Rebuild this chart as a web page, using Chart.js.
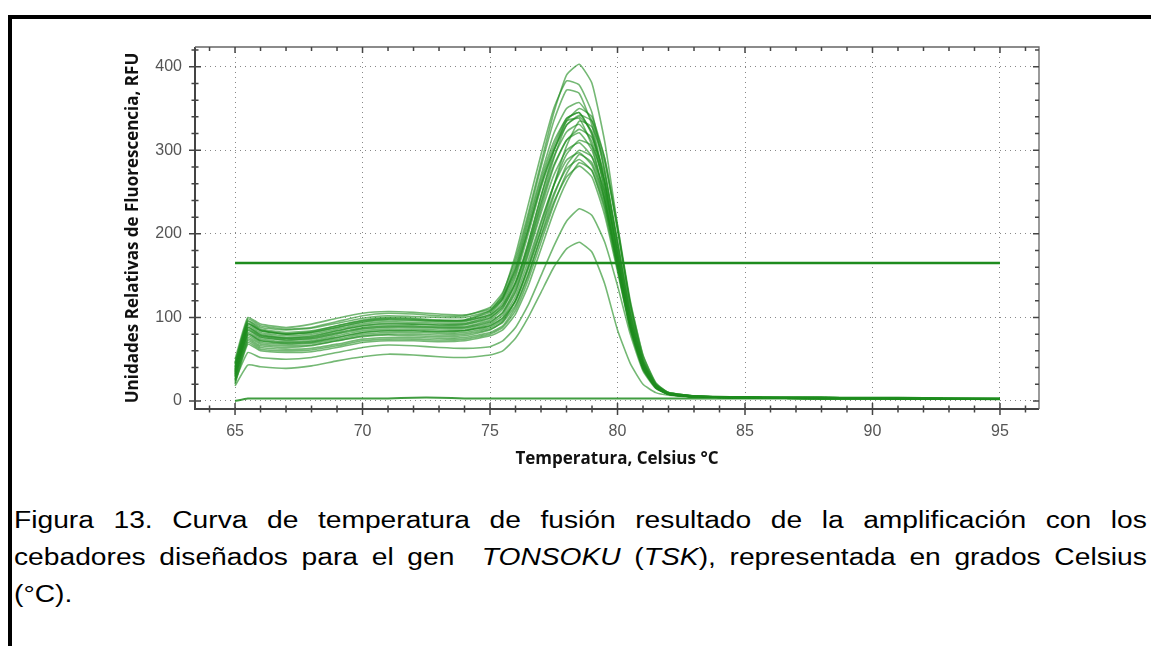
<!DOCTYPE html>
<html>
<head>
<meta charset="utf-8">
<script src="https://cdn.jsdelivr.net/npm/chart.js@4.4.0/dist/chart.umd.min.js"></script>
<style>
  html, body { margin: 0; padding: 0; background: #fff; }
  body { width: 1151px; height: 646px; position: relative; overflow: hidden; }
  #frame { position: absolute; left: 8px; top: 15px; width: 1160px; height: 660px;
           border-top: 4px solid #000; border-left: 4px solid #000; }
  #chartBox { position: absolute; left: 0; top: 0; width: 1151px; height: 480px; }
  /* caption text in the scan is a little wider than it is tall */
  .cap { position: absolute; left: 14px; width: 944px; font-family: 'Liberation Sans', Arial, sans-serif;
         font-size: 23.5px; line-height: 28px; color: #000;
         transform-origin: left top; transform: scaleX(1.2); }
  .just { text-align: justify; text-align-last: justify; }
</style>
</head>
<body>
<div id="frame"></div>
<div id="chartBox"><canvas id="meltChart" width="1151" height="480"></canvas></div>
<div class="cap just" style="top:506px">Figura 13. Curva de temperatura de fusión resultado de la amplificación con los</div>
<div class="cap just" style="top:543px">cebadores diseñados para el gen &nbsp;<i>TONSOKU</i> (<i>TSK</i>), representada en grados Celsius</div>
<div class="cap" style="top:580px">(°C).</div>

<script>
// Temperature points (°C) shared by every melt curve
const TEMPS = [65, 65.5, 66, 67, 68, 69, 70, 71, 72, 73, 74, 75, 75.5, 76, 76.5, 77, 77.5, 78, 78.5,
               79, 79.5, 80, 80.5, 81, 81.5, 82, 83, 85, 88, 91, 95];

// RFU values, one array per well
const curve01 = [45, 98, 90, 86, 88, 95, 102, 105, 104, 102, 102, 112, 130, 170, 225, 285, 345, 390, 403, 380, 310, 210, 115, 50, 20, 10, 6, 5, 4, 4, 3];
const curve02 = [40, 95, 86, 82, 84, 90, 97, 100, 99, 97, 97, 108, 128, 175, 235, 295, 350, 383, 378, 345, 275, 185, 100, 45, 18, 9, 6, 4, 4, 4, 3];
const curve03 = [40, 92, 84, 80, 83, 90, 96, 99, 98, 96, 97, 106, 124, 165, 220, 280, 335, 372, 368, 330, 262, 175, 95, 42, 17, 9, 6, 4, 4, 3, 3];
const curve04 = [38, 92, 84, 80, 82, 88, 94, 97, 96, 95, 95, 104, 122, 160, 215, 270, 320, 350, 357, 335, 275, 190, 105, 45, 18, 9, 6, 4, 4, 3, 3];
const curve05 = [32, 88, 79, 75, 77, 84, 90, 93, 92, 91, 92, 100, 112, 140, 188, 245, 298, 335, 350, 340, 290, 205, 115, 50, 20, 10, 6, 4, 4, 3, 2];
const curve06 = [36, 90, 82, 78, 80, 86, 92, 95, 94, 93, 93, 102, 118, 152, 205, 260, 305, 338, 345, 320, 260, 175, 95, 42, 17, 9, 5, 4, 4, 3, 2];
const curve07 = [50, 100, 92, 88, 92, 99, 105, 107, 106, 104, 103, 110, 125, 158, 210, 265, 310, 338, 345, 318, 250, 165, 88, 40, 17, 9, 6, 5, 4, 3, 3];
const curve08 = [44, 93, 85, 80, 82, 88, 95, 98, 97, 96, 96, 103, 115, 142, 185, 238, 290, 330, 342, 335, 290, 210, 120, 55, 22, 10, 6, 4, 4, 3, 3];
const curve09 = [46, 96, 88, 85, 87, 93, 99, 102, 101, 100, 100, 108, 122, 155, 205, 258, 300, 330, 340, 322, 262, 178, 96, 43, 18, 9, 6, 4, 4, 3, 3];
const curve10 = [34, 88, 80, 76, 78, 84, 90, 92, 92, 91, 91, 99, 114, 148, 200, 255, 300, 335, 338, 305, 240, 160, 85, 38, 16, 8, 5, 4, 3, 3, 2];
const curve11 = [31, 80, 72, 69, 70, 76, 82, 84, 84, 83, 84, 90, 99, 120, 158, 205, 258, 305, 335, 328, 285, 205, 118, 54, 21, 10, 6, 4, 4, 3, 2];
const curve12 = [42, 86, 78, 75, 76, 82, 88, 90, 90, 89, 89, 97, 110, 142, 190, 245, 292, 322, 331, 310, 255, 172, 92, 40, 17, 8, 5, 4, 3, 3, 2];
const curve13 = [37, 85, 77, 73, 75, 81, 87, 89, 89, 88, 88, 95, 106, 132, 178, 230, 280, 312, 325, 315, 270, 192, 108, 48, 19, 9, 5, 4, 3, 3, 2];
const curve14 = [30, 84, 76, 73, 74, 80, 86, 88, 88, 87, 87, 94, 106, 136, 182, 235, 282, 312, 321, 300, 245, 168, 92, 42, 18, 9, 5, 4, 3, 3, 2];
const curve15 = [29, 74, 66, 64, 66, 72, 77, 79, 78, 77, 78, 85, 95, 120, 162, 212, 258, 295, 312, 305, 262, 188, 105, 47, 19, 9, 5, 4, 3, 3, 2];
const curve16 = [33, 82, 74, 71, 72, 78, 84, 86, 86, 85, 85, 92, 103, 130, 175, 225, 270, 300, 309, 292, 240, 165, 90, 40, 17, 8, 5, 4, 3, 3, 2];
const curve17 = [25, 72, 64, 62, 63, 68, 74, 76, 76, 75, 76, 82, 90, 112, 150, 198, 245, 282, 300, 292, 250, 180, 100, 45, 18, 9, 5, 4, 3, 3, 2];
const curve18 = [28, 80, 72, 70, 71, 76, 82, 84, 84, 83, 84, 90, 100, 125, 168, 215, 258, 288, 297, 282, 235, 162, 90, 40, 17, 8, 5, 4, 3, 3, 2];
const curve19 = [22, 70, 62, 60, 61, 66, 72, 74, 74, 73, 74, 80, 88, 108, 145, 190, 235, 272, 295, 285, 240, 168, 94, 42, 17, 8, 5, 4, 3, 3, 2];
const curve20 = [35, 78, 70, 68, 69, 74, 80, 82, 82, 81, 82, 88, 97, 120, 160, 205, 248, 278, 289, 275, 228, 158, 88, 40, 16, 8, 5, 4, 3, 3, 2];
const curve21 = [20, 68, 60, 58, 59, 64, 70, 72, 72, 71, 72, 78, 85, 104, 138, 182, 226, 262, 285, 276, 232, 162, 90, 40, 16, 8, 5, 4, 3, 3, 2];
const curve22 = [26, 76, 68, 66, 67, 72, 78, 80, 80, 79, 80, 86, 94, 115, 152, 196, 238, 268, 281, 268, 222, 155, 86, 38, 16, 8, 5, 4, 3, 3, 2];
const curve23 = [24, 58, 52, 50, 52, 58, 64, 67, 66, 64, 63, 65, 72, 88, 115, 150, 185, 215, 230, 222, 190, 138, 80, 36, 15, 8, 5, 4, 3, 3, 2];
const curve24 = [18, 43, 41, 39, 42, 48, 53, 56, 55, 53, 52, 55, 60, 75, 100, 130, 160, 182, 190, 178, 140, 85, 45, 20, 10, 7, 5, 4, 3, 3, 2];
// negative control, flat near zero
const baseline = [0, 3, 3, 3, 3, 3, 3, 3, 4, 4, 3, 3, 3, 3, 3, 3, 3, 3, 3, 3, 3, 3, 3, 3, 3, 3, 3, 3, 3, 3, 2];

const THRESHOLD = 165;
const THRESHOLD_RANGE = [65, 95];

const X_TICKS = [65, 70, 75, 80, 85, 90, 95];
const Y_TICKS = [0, 100, 200, 300, 400];

const meltCurves = [curve01, curve02, curve03, curve04, curve05, curve06, curve07, curve08, curve09, curve10,
                    curve11, curve12, curve13, curve14, curve15, curve16, curve17, curve18, curve19, curve20,
                    curve21, curve22, curve23, curve24];

const LINE_GREEN = 'rgba(30,140,30,0.62)';
const AXIS_COLOR = '#444';
const TITLE_FONT = { family: "'Open Sans', sans-serif", size: 17, weight: 'bold' };
const TICK_FONT = { family: "'Liberation Sans', Arial, sans-serif", size: 16 };

function toPoints(values) {
    return values.map((v, i) => ({ x: TEMPS[i], y: v }));
}

let datasets = meltCurves.map(vals => ({
    data: toPoints(vals),
    borderColor: LINE_GREEN,
    borderWidth: 1.6,
    pointRadius: 0,
    tension: 0.15,
    fill: false
}));

datasets.push({
    data: toPoints(baseline),
    borderColor: 'rgba(30,140,30,0.85)',
    borderWidth: 2,
    pointRadius: 0,
    tension: 0.15
});

// threshold line
datasets.push({
    data: THRESHOLD_RANGE.map(t => ({ x: t, y: THRESHOLD })),
    borderColor: 'rgb(30,140,30)',
    borderWidth: 2.5,
    pointRadius: 0
});

// Draws the box around the plot plus major and minor tick marks on all four sides
const axisBoxPlugin = {
    id: 'axisBox',
    afterDatasetsDraw(chart) {
        const { ctx, chartArea: a, scales: { x, y } } = chart;
        ctx.save();
        ctx.strokeStyle = AXIS_COLOR;

        // left + bottom axes
        ctx.lineWidth = 2;
        ctx.beginPath();
        ctx.moveTo(a.left, a.top);
        ctx.lineTo(a.left, a.bottom);
        ctx.lineTo(a.right, a.bottom);
        ctx.stroke();

        // top + right axes, lighter
        ctx.lineWidth = 1.3;
        ctx.strokeStyle = '#666';
        ctx.beginPath();
        ctx.moveTo(a.left, a.top);
        ctx.lineTo(a.right, a.top);
        ctx.lineTo(a.right, a.bottom);
        ctx.stroke();

        ctx.strokeStyle = AXIS_COLOR;
        ctx.lineWidth = 1.5;
        ctx.beginPath();
        // x ticks, every degree
        for (let t = 64; t <= 96; t++) {
            const px = x.getPixelForValue(t);
            const major = t % 5 === 0;
            const len = major ? 6 : 3.5;
            ctx.moveTo(px, a.bottom - len);
            ctx.lineTo(px, a.bottom + len);
            ctx.moveTo(px, a.top);
            ctx.lineTo(px, a.top + (major ? 6 : 4));
        }
        // y ticks, every 20 RFU
        for (let v = 0; v <= 420; v += 20) {
            const py = y.getPixelForValue(v);
            const major = v % 100 === 0;
            const len = major ? 6 : 3.5;
            ctx.moveTo(a.left - len, py);
            ctx.lineTo(a.left + len, py);
            ctx.moveTo(a.right, py);
            ctx.lineTo(a.right - (major ? 6 : 4), py);
        }
        ctx.stroke();
        ctx.restore();
    }
};

const meltChart = new Chart(document.getElementById('meltChart').getContext('2d'), {
    type: 'line',
    data: { datasets: datasets },
    options: {
        responsive: false,
        animation: false,
        layout: { padding: { left: 123, right: 112, top: 47, bottom: 11 } },
        plugins: {
            legend: { display: false },
            tooltip: { enabled: false }
        },
        scales: {
            x: {
                type: 'linear',
                min: 63.43,
                max: 96.53,
                afterBuildTicks: axis => { axis.ticks = X_TICKS.map(v => ({ value: v })); },
                afterFit: axis => { axis.height = 60; },
                grid: { color: '#888', lineWidth: 1, drawTicks: false },
                border: { display: false, dash: [1, 4] },
                ticks: { padding: 13, color: '#555', font: TICK_FONT },
                title: {
                    display: true,
                    text: 'Temperatura, Celsius °C',
                    color: '#111',
                    padding: 0,
                    font: TITLE_FONT
                }
            },
            y: {
                min: -9.6,
                max: 423.6,
                afterBuildTicks: axis => { axis.ticks = Y_TICKS.map(v => ({ value: v })); },
                afterFit: axis => { axis.width = 72; },
                grid: { color: '#888', lineWidth: 1, drawTicks: false },
                border: { display: false, dash: [1, 4] },
                ticks: { padding: 13, color: '#555', font: TICK_FONT },
                title: {
                    display: true,
                    text: 'Unidades Relativas de Fluorescencia, RFU',
                    color: '#111',
                    padding: 0,
                    font: TITLE_FONT
                }
            }
        }
    },
    plugins: [axisBoxPlugin]
});
</script>
</body>
</html>
